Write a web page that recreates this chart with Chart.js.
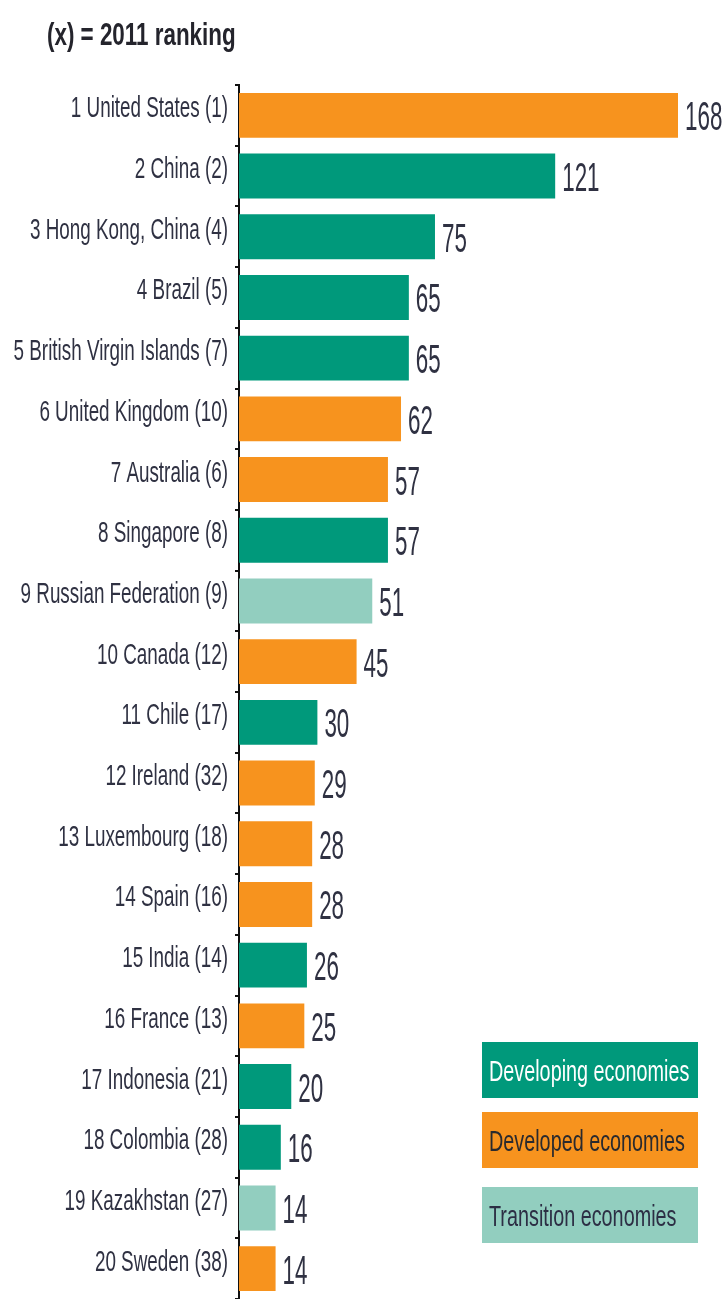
<!DOCTYPE html>
<html>
<head>
<meta charset="utf-8">
<script src="https://cdn.jsdelivr.net/npm/chart.js@4"></script>
<style>
  html, body { margin: 0; padding: 0; background: #fff; }
  #wrap { width: 725px; height: 1299px; position: relative; }
</style>
</head>
<body>
<div id="wrap"><canvas id="rankChart"></canvas></div>
<script>
"use strict";

const countries = [
  "United States", "China", "Hong Kong, China", "Brazil", "British Virgin Islands",
  "United Kingdom", "Australia", "Singapore", "Russian Federation", "Canada",
  "Chile", "Ireland", "Luxembourg", "Spain", "India",
  "France", "Indonesia", "Colombia", "Kazakhstan", "Sweden",
];
const rank2011 = [1, 2, 4, 5, 7, 10, 6, 8, 9, 12, 17, 32, 18, 16, 14, 13, 21, 28, 27, 38];
const values = [168, 121, 75, 65, 65, 62, 57, 57, 51, 45, 30, 29, 28, 28, 26, 25, 20, 16, 14, 14];
const groups = [
  "developed", "developing", "developing", "developing", "developing",
  "developed", "developed", "developing", "transition", "developed",
  "developing", "developed", "developed", "developed", "developing",
  "developed", "developing", "developing", "transition", "developed",
];

const groupColors = {
  developing: "#00997b",
  developed: "#f7931e",
  transition: "#92cebf",
};
const legendItems = [
  { key: "developing", text: "Developing economies", color: "#ffffff" },
  { key: "developed", text: "Developed economies", color: "#2a2a2e" },
  { key: "transition", text: "Transition economies", color: "#2c2e44" },
];

const labels = countries.map((c, i) => (i + 1) + " " + c + " (" + rank2011[i] + ")");
const font = "'Liberation Sans', Arial, sans-serif";
const textColor = "#2f3142";

// draws squeezed text like the narrow face in the original
function narrowText(ctx, text, x, y, sx, align) {
  ctx.save();
  ctx.translate(x, y);
  ctx.scale(sx, 1);
  ctx.textAlign = align;
  ctx.fillText(text, 0, 0);
  ctx.restore();
}

const extras = {
  id: "extras",
  afterDatasetsDraw(chart) {
    const ctx = chart.ctx;
    const meta = chart.getDatasetMeta(0);
    const yScale = chart.scales.y;
    ctx.save();
    ctx.textBaseline = "alphabetic";
    ctx.fillStyle = textColor;

    // value labels
    ctx.font = "40px " + font;
    meta.data.forEach((bar, i) => {
      narrowText(ctx, String(values[i]), bar.x + 7, bar.y + 15, 0.56, "left");
    });

    // category labels
    ctx.font = "29px " + font;
    labels.forEach((lab, i) => {
      narrowText(ctx, lab, yScale.right - 11, yScale.getPixelForValue(i) + 2, 0.65, "right");
    });
    ctx.restore();
  },
  afterDraw(chart) {
    const ctx = chart.ctx;
    ctx.save();
    ctx.textBaseline = "alphabetic";
    // title
    ctx.font = "bold 32px " + font;
    ctx.fillStyle = "#24242c";
    narrowText(ctx, "(x) = 2011 ranking", 47, 45, 0.70, "left");

    // legend boxes
    const tops = [1042, 1112, 1187];
    ctx.font = "30px " + font;
    legendItems.forEach((item, i) => {
      ctx.fillStyle = groupColors[item.key];
      ctx.fillRect(482, tops[i], 216, 56);
      ctx.fillStyle = item.color;
      narrowText(ctx, item.text, 489, tops[i] + 39, 0.66, "left");
    });
    ctx.restore();
  },
};

new Chart(document.getElementById("rankChart"), {
  type: "bar",
  data: {
    labels: labels,
    datasets: [
      {
        data: values,
        backgroundColor: groups.map((g) => groupColors[g]),
        barPercentage: 0.74,
        categoryPercentage: 1,
      },
    ],
  },
  options: {
    indexAxis: "y",
    responsive: true,
    maintainAspectRatio: false,
    animation: false,
    layout: { padding: { top: 85, right: 47, bottom: -4, left: 0 } },
    plugins: {
      legend: { display: false },
      tooltip: { enabled: false },
    },
    scales: {
      x: {
        display: false,
        min: 0,
        max: 168,
      },
      y: {
        afterFit(scale) {
          scale.width = 239;
        },
        border: { display: true, color: "#111", width: 2 },
        grid: {
          offset: true,
          drawOnChartArea: false,
          drawTicks: true,
          tickLength: 4,
          color: "#111",
          lineWidth: 2,
        },
        ticks: { display: false },
      },
    },
  },
  plugins: [extras],
});
</script>
</body>
</html>
